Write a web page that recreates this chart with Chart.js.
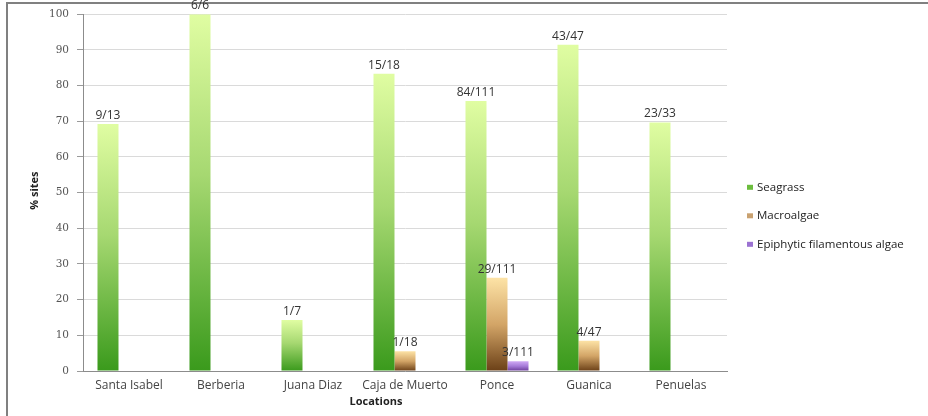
<!DOCTYPE html>
<html>
<head>
<meta charset="utf-8">
<script src="https://cdn.jsdelivr.net/npm/chart.js@4/dist/chart.umd.min.js"></script>
<style>
  html, body { margin: 0; padding: 0; background: #ffffff; }
  #wrap { position: relative; width: 928px; height: 416px; }
  canvas { display: block; }
</style>
</head>
<body>
<div id="wrap"><canvas id="chart" width="928" height="416"></canvas></div>
<script>
// Survey locations and the number of sites surveyed at each
const categories = ['Santa Isabel', 'Berberia', 'Juana Diaz', 'Caja de Muerto', 'Ponce', 'Guanica', 'Penuelas'];
const totalSites = [13, 6, 7, 18, 111, 47, 33];

// Sites where each group was found (null = not recorded)
const seagrassSites   = [9, 6, 1, 15, 84, 43, 23];
const macroalgaeSites = [null, null, null, 1, 29, 4, null];
const epiphyteSites   = [null, null, null, null, 3, null, null];

const seriesNames = ['Seagrass', 'Macroalgae', 'Epiphytic filamentous algae'];

// Percentage of sites per location
const toPercent = (sites) => sites.map((n, i) => n == null ? null : n / totalSites[i] * 100);

// Vertical colour ramps (top -> bottom of each bar)
const seagrassStops   = [[0, '#e0fda2'], [0.45, '#a6d871'], [1, '#3a9a1c']];
const macroalgaeStops = [[0, '#fde3a6'], [0.5, '#d3a567'], [1, '#6b4017']];
const epiphyteStops   = [[0, '#cfa8f4'], [0.5, '#a57ad8'], [1, '#6a3b98']];
const legendSwatches  = ['#6cbd3e', '#c9a170', '#9b72d2'];

function barGradient(stops) {
  return (ctx) => {
    const chart = ctx.chart;
    if (!chart.chartArea || ctx.type !== 'data' || ctx.parsed == null || ctx.parsed.y == null) {
      return stops[stops.length - 1][1];
    }
    const ys = chart.scales.y;
    const top = ys.getPixelForValue(ctx.parsed.y);
    const base = ys.getPixelForValue(0);
    if (!isFinite(top) || Math.abs(base - top) < 0.5) return stops[stops.length - 1][1];
    const g = chart.ctx.createLinearGradient(0, top, 0, base);
    stops.forEach(([o, c]) => g.addColorStop(o, c));
    return g;
  };
}

const siteCounts = [seagrassSites, macroalgaeSites, epiphyteSites];

// Frame lines, fraction labels, legend and axis titles
const decorations = {
  id: 'decorations',
  beforeDraw(chart) {
    const c = chart.ctx;
    c.save();
    c.strokeStyle = '#808080';
    c.lineWidth = 2;
    c.beginPath();
    c.moveTo(7, 416); c.lineTo(7, 3); c.lineTo(928, 3);
    c.stroke();
    c.restore();
  },
  afterDatasetsDraw(chart) {
    const c = chart.ctx;
    c.save();
    c.font = '12px "Open Sans"';
    c.fillStyle = '#333333';
    c.textAlign = 'center';
    c.textBaseline = 'alphabetic';
    siteCounts.forEach((counts, di) => {
      const meta = chart.getDatasetMeta(di);
      meta.data.forEach((bar, i) => {
        if (counts[i] == null) return;
        c.fillText(counts[i] + '/' + totalSites[i], bar.x, bar.y - 5);
      });
    });
    c.restore();
  },
  afterDraw(chart) {
    const c = chart.ctx;
    const a = chart.chartArea;
    c.save();
    // legend
    c.font = '11.5px "Open Sans"';
    c.textBaseline = 'middle';
    c.textAlign = 'left';
    seriesNames.forEach((name, i) => {
      const y = a.top + 173 + i * 28.5;
      c.fillStyle = legendSwatches[i];
      c.fillRect(a.right + 20, y - 2.5, 6, 5);
      c.fillStyle = '#222222';
      c.fillText(name, a.right + 30, y);
    });
    // axis titles
    c.font = 'bold 11px "Open Sans"';
    c.fillStyle = '#222222';
    c.textAlign = 'center';
    c.fillText('Locations', a.left + (a.right - a.left) * 0.5 - 29, 402);
    c.translate(35, (a.top + a.bottom) / 2 - 2);
    c.rotate(-Math.PI / 2);
    c.fillText('% sites', 0, 0);
    c.restore();
  }
};

new Chart(document.getElementById('chart'), {
  type: 'bar',
  data: {
    labels: categories,
    datasets: [
      { label: seriesNames[0], data: toPercent(seagrassSites),   backgroundColor: barGradient(seagrassStops) },
      { label: seriesNames[1], data: toPercent(macroalgaeSites), backgroundColor: barGradient(macroalgaeStops) },
      { label: seriesNames[2], data: toPercent(epiphyteSites),   backgroundColor: barGradient(epiphyteStops) }
    ]
  },
  options: {
    responsive: false,
    animation: false,
    events: [],
    layout: { padding: { top: 14, right: 201, bottom: 0, left: 0 } },
    datasets: { bar: { barPercentage: 1, categoryPercentage: 0.685, borderWidth: 0 } },
    plugins: { legend: { display: false }, tooltip: { enabled: false } },
    scales: {
      x: {
        grid: { display: false, drawTicks: false },
        border: { display: true, color: '#8c8c8c', width: 1 },
        ticks: { color: '#444444', font: { family: 'Open Sans', size: 12 }, padding: 7, maxRotation: 0 },
        afterFit(s) { s.height = 45; }
      },
      y: {
        min: 0,
        max: 100,
        ticks: { stepSize: 10, color: '#555555', font: { family: 'DejaVu Serif', size: 10.5 }, padding: 8 },
        grid: { color: '#dadada', tickColor: '#9a9a9a', tickLength: 6 },
        border: { display: true, color: '#8c8c8c', width: 1 },
        afterFit(s) { s.width = 83; }
      }
    }
  },
  plugins: [decorations]
});
</script>
</body>
</html>
